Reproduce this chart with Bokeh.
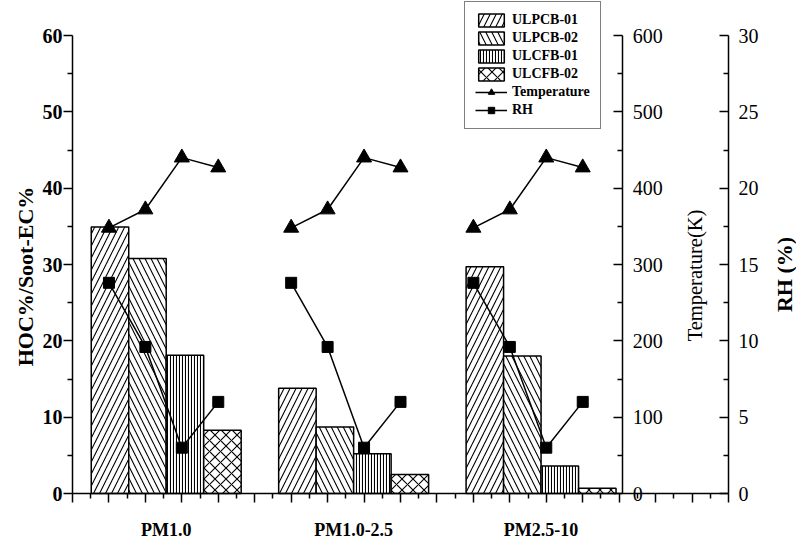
import math
from bokeh.plotting import figure
from bokeh.models import Range1d, LinearAxis, FixedTicker, Legend, LegendItem, Label
from bokeh.embed import file_html
from bokeh.resources import INLINE

# ---------------- data ----------------
groups = ["PM1.0", "PM1.0-2.5", "PM2.5-10"]
series_names = ["ULPCB-01", "ULPCB-02", "ULCFB-01", "ULCFB-02"]
ulpcb_01 = [34.9, 13.8, 29.7]
ulpcb_02 = [30.8, 8.7, 18.0]
ulcfb_01 = [18.1, 5.2, 3.6]
ulcfb_02 = [8.3, 2.5, 0.7]
temperature_k = [
    [348, 372, 440, 427],
    [348, 372, 440, 427],
    [348, 372, 440, 427],
]
rh_pct = [
    [13.8, 9.6, 3.0, 6.0],
    [13.8, 9.6, 3.0, 6.0],
    [13.8, 9.6, 3.0, 6.0],
]
left_ticks = [0, 10, 20, 30, 40, 50, 60]
temp_ticks = [0, 100, 200, 300, 400, 500, 600]
rh_ticks = [0, 5, 10, 15, 20, 25, 30]
y_title = "HOC%/Soot-EC%"
temp_title = "Temperature(K)"
rh_title = "RH (%)"

FONT = "Liberation Serif"

# ---------------- layout (pixels) ----------------
W, H = 796, 539
AX_L, AX_R = 72, 728          # left axis line / RH axis line
AX_B, AX_T = 493, 35          # y = 0 / y = 60
N_SLOTS = 18                  # slot scale of the bottom axis (markers, ticks)
N_BARS = 17.5                 # slot scale of the bars
TEMP_AX_SLOT = 15.1

ux = (AX_R - AX_L) / N_SLOTS
ub = (AX_R - AX_L) / N_BARS
uy = (AX_B - AX_T) / 60.0

def slot(g, s):
    return 1 + 5 * g + s

p = figure(width=W, height=H,
           x_range=Range1d(-AX_L / ux, (W - AX_L) / ux),
           y_range=Range1d(-(H - AX_B) / uy, AX_B / uy),
           output_backend="svg", toolbar_location=None, min_border=0,
           x_axis_location=None, y_axis_location=None)
p.extra_x_ranges = {"bars": Range1d(-AX_L / ub, (W - AX_L) / ub)}
p.extra_y_ranges = {"temp": Range1d(-(H - AX_B) / uy * 10, AX_B / uy * 10),
                    "rh": Range1d(-(H - AX_B) / uy * 0.5, AX_B / uy * 0.5)}
p.grid.visible = False
p.outline_line_color = None
p.background_fill_color = "white"
p.border_fill_color = "white"

# ---------------- bars ----------------
series_vals = [ulpcb_01, ulpcb_02, ulcfb_01, ulcfb_02]
patterns = ["/", "\\", "|", "x"]
hscales = [12, 12, 3, 11]
bar_r = []
for s, (vals, pat, sc) in enumerate(zip(series_vals, patterns, hscales)):
    xs = [slot(g, s) for g in range(len(groups))]
    r = p.vbar(x=xs, top=vals, bottom=0, width=1, x_range_name="bars",
               fill_color="white", line_color="black", line_width=1.5,
               hatch_pattern=pat, hatch_scale=sc, hatch_weight=1.1, hatch_color="black")
    bar_r.append(r)

# ---------------- lines ----------------
mxs = [[slot(g, s) for s in range(4)] for g in range(len(groups))]
flat_x = [x for row in mxs for x in row]
flat_t = [v for row in temperature_k for v in row]
flat_rh = [v for row in rh_pct for v in row]

t_line = p.multi_line(xs=mxs, ys=temperature_k, y_range_name="temp", line_color="black", line_width=1.5)
t_pts = p.scatter(x=flat_x, y=flat_t, y_range_name="temp", marker="triangle", size=15,
                  fill_color="black", line_color="black")
r_line = p.multi_line(xs=mxs, ys=rh_pct, y_range_name="rh", line_color="black", line_width=1.5)
r_pts = p.scatter(x=flat_x, y=flat_rh, y_range_name="rh", marker="square", size=11,
                  fill_color="black", line_color="black")

# ---------------- axes ----------------
def base_style(ax):
    ax.axis_line_width = 1.5
    ax.major_tick_line_width = 1.5
    ax.minor_tick_line_width = 1.5
    ax.axis_line_color = "black"
    ax.major_tick_line_color = "black"
    ax.minor_tick_line_color = "black"
    ax.major_label_text_font = FONT
    ax.major_label_text_color = "black"

# bottom tick axis
xax = LinearAxis(fixed_location=0, bounds=(0, N_SLOTS),
                 ticker=FixedTicker(ticks=list(range(0, N_SLOTS + 1)),
                                    minor_ticks=[i + 0.5 for i in range(N_SLOTS)]))
base_style(xax)
xax.major_label_overrides = {i: "" for i in range(0, N_SLOTS + 1)}
xax.major_tick_out = 9
xax.major_tick_in = 0
xax.minor_tick_out = 5
xax.minor_tick_in = 0
xax.major_label_text_font_size = "1px"
p.add_layout(xax, "below")

# category labels
cat_ax = LinearAxis(x_range_name="bars", fixed_location=0,
                    ticker=FixedTicker(ticks=[2.5, 7.5, 12.5], minor_ticks=[]))
base_style(cat_ax)
cat_ax.major_label_overrides = {2.5: groups[0], 7.5: groups[1], 12.5: groups[2]}
cat_ax.axis_line_color = None
cat_ax.major_tick_line_color = None
cat_ax.minor_tick_line_color = None
cat_ax.major_tick_out = 0
cat_ax.major_tick_in = 0
cat_ax.major_label_standoff = 26
cat_ax.major_label_text_font_size = "18px"
cat_ax.major_label_text_font_style = "bold"
p.add_layout(cat_ax, "below")

# left axis
yax = LinearAxis(fixed_location=0, bounds=(0, 60),
                 ticker=FixedTicker(ticks=left_ticks, minor_ticks=[5, 15, 25, 35, 45, 55]))
base_style(yax)
yax.major_tick_out = 9
yax.major_tick_in = 0
yax.minor_tick_out = 5
yax.minor_tick_in = 0
yax.major_label_standoff = 1
yax.major_label_text_font_size = "20px"
yax.major_label_text_font_style = "bold"
p.add_layout(yax, "left")

def style_right(ax):
    base_style(ax)
    ax.major_tick_in = 9
    ax.major_tick_out = 0
    ax.minor_tick_in = 5
    ax.minor_tick_out = 0
    ax.major_label_standoff = 10
    ax.major_label_text_font_size = "20px"

temp_ax = LinearAxis(y_range_name="temp", fixed_location=TEMP_AX_SLOT, bounds=(0, 600),
                     ticker=FixedTicker(ticks=temp_ticks, minor_ticks=[50, 150, 250, 350, 450, 550]))
style_right(temp_ax)
p.add_layout(temp_ax, "right")

rh_ax = LinearAxis(y_range_name="rh", fixed_location=N_SLOTS, bounds=(0, 30),
                   ticker=FixedTicker(ticks=rh_ticks, minor_ticks=[2.5, 7.5, 12.5, 17.5, 22.5, 27.5]))
style_right(rh_ax)
p.add_layout(rh_ax, "right")

# axis titles (rotated, reading bottom to top)
def title(text, sx, sy, size, style):
    p.add_layout(Label(x=sx, y=H - sy, x_units="screen", y_units="screen", text=text,
                       angle=math.pi / 2, text_align="center", text_baseline="middle",
                       text_font=FONT, text_font_size=size, text_font_style=style,
                       text_color="black"))

title(y_title, 25, 276, "22px", "bold")
title(temp_title, 694, 275, "20.5px", "normal")
title(rh_title, 784, 274, "22px", "bold")

# ---------------- legend ----------------
items = [LegendItem(label=n, renderers=[r]) for n, r in zip(series_names, bar_r)]
items.append(LegendItem(label="Temperature", renderers=[t_line, t_pts]))
items.append(LegendItem(label="RH", renderers=[r_line, r_pts]))
legend = Legend(items=items, location=(464, H - 129))
legend.border_line_color = "black"
legend.border_line_width = 1.2
legend.background_fill_color = "white"
legend.background_fill_alpha = 1
legend.label_text_font = FONT
legend.label_text_font_size = "14px"
legend.label_text_font_style = "bold"
legend.label_text_color = "black"
legend.glyph_width = 32
legend.glyph_height = 16
legend.label_height = 16
legend.spacing = 2
legend.padding = 10
legend.margin = 0
legend.label_standoff = 5
p.add_layout(legend, "center")

open("out.html", "w").write(file_html(p, INLINE))
